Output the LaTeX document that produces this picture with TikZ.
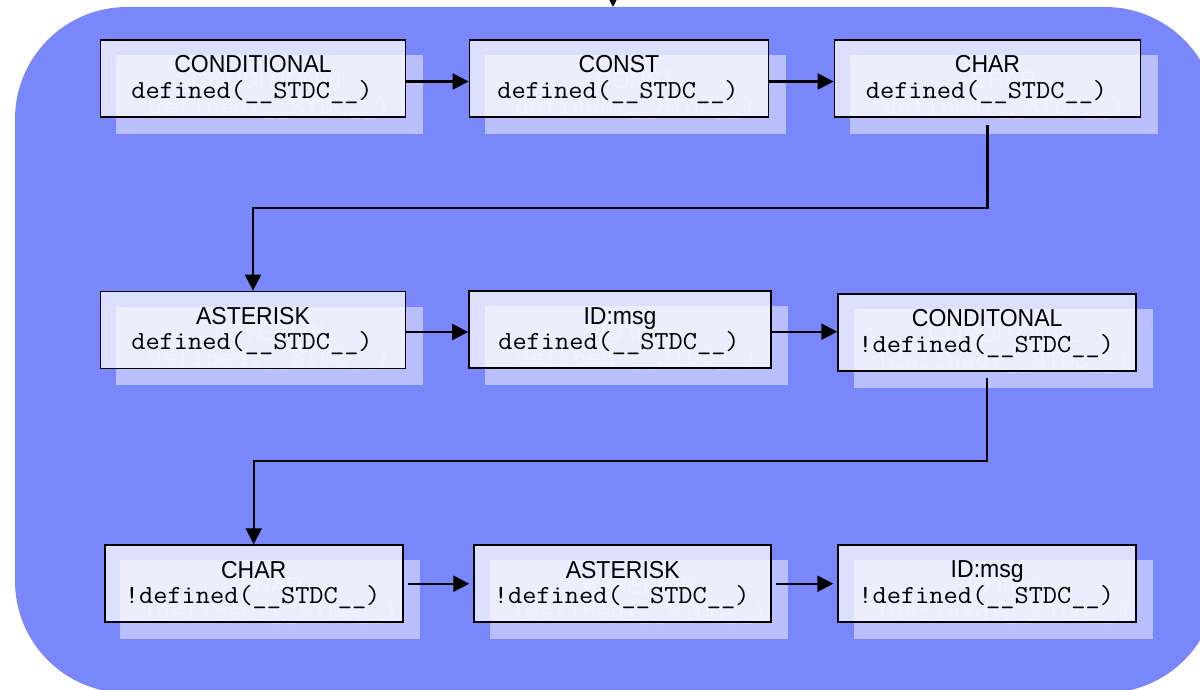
\documentclass[tikz,border=0pt]{standalone}
\usepackage{fontspec}
\newfontfamily\headfont{Liberation Sans}[FakeStretch=0.94]
\newfontfamily\codefont{Latin Modern Mono}[FakeStretch=1.06]
\usetikzlibrary{arrows.meta,calc}
\definecolor{panel}{RGB}{122,135,251}
\tikzset{
  card/.style={draw=black, line width=1.8pt, fill=white, fill opacity=0.74, inner sep=0pt},
  backdrop/.style={fill=white, fill opacity=0.47, inner sep=0pt},
  headline/.style={font=\headfont\fontsize{24.5}{26}\selectfont, inner sep=0pt, text=black},
  codeline/.style={font=\codefont\fontsize{26}{26}\selectfont, inner sep=0pt, text=black},
  ghost/.style={text=white, text opacity=0.28},
  flow/.style={line width=2.2pt, -{Triangle[length=16pt,width=16pt]}},
}
% #1 name, #2 centre, #3 width, #4 height, #5 heading, #6 condition
\newcommand\stagebox[6]{%
  \node[backdrop, minimum width=#3pt+1.5pt, minimum height=#4pt+1.5pt] (#1-s) at ($#2+(16.5,16)$) {};
  \node[headline, ghost, anchor=base] (#1-sa) at ($(#1-s.center)+(0,-5.7)$) {#5};
  \node[codeline, ghost, anchor=base] (#1-sb) at ($(#1-s.center)+(0,19.9)$) {#6};
  \node[card, minimum width=#3pt, minimum height=#4pt] (#1) at #2 {};
  \node[headline, anchor=base] (#1-a) at ($(#1.center)+(0,-5.7)$) {#5};
  \node[codeline, anchor=base] (#1-b) at ($(#1.center)+(-1,19.9)$) {#6};
}
\begin{document}
\begin{tikzpicture}[x=1pt,y=-1pt]
\useasboundingbox (0,0) rectangle (1200,690);
\clip (0,0) rectangle (1200,690);
% rounded panel
\fill[panel, rounded corners=112pt] (15,7) rectangle (1217,693);
% incoming arrow at the top
\coordinate (entry) at (613,-20);
\coordinate (top) at (613,7);
\draw[flow] (entry) -- (top);
% first row
\stagebox{b1}{(253,78.5)}{305}{77}{CONDITIONAL}{defined(\_\_STDC\_\_)}
\stagebox{b2}{(619,78.5)}{299}{77}{CONST}{defined(\_\_STDC\_\_)}
\stagebox{b3}{(987.5,78.5)}{306}{77}{CHAR}{defined(\_\_STDC\_\_)}
% second row
\stagebox{b4}{(253,330)}{305}{77}{ASTERISK}{defined(\_\_STDC\_\_)}
\stagebox{b5}{(620,329.7)}{302}{77}{ID:msg}{defined(\_\_STDC\_\_)}
\stagebox{b6}{(987.2,332.5)}{298}{77}{CONDITONAL}{!defined(\_\_STDC\_\_)}
% third row
\stagebox{b7}{(253.7,583.7)}{298}{77}{CHAR}{!defined(\_\_STDC\_\_)}
\stagebox{b8}{(622.7,583.7)}{297}{77}{ASTERISK}{!defined(\_\_STDC\_\_)}
\stagebox{b9}{(987.2,583.5)}{298}{77}{ID:msg}{!defined(\_\_STDC\_\_)}
% connectors
\draw[flow] ($(b1.east)+(0,3)$) -- ($(b1.east -| b2.west)+(0,3)$);
\draw[flow] ($(b2.east)+(0,3)$) -- ($(b2.east -| b3.west)+(0,3)$);
\draw[flow, shorten <=7pt] (b3.south) -- ++(0,90) -| (b4.north);
\draw[flow] ($(b4.east)+(0,2)$) -- ($(b4.east -| b5.west)+(0,2)$);
\draw[flow] ($(b5.east)+(0,2)$) -- ($(b5.east -| b6.west)+(0,2)$);
\draw[flow, shorten <=6pt] (b6.south) -- ++(0,89) -| (b7.north);
\draw[flow, shorten <=4pt, shorten >=4pt] (b7.east) -- (b7.east -| b8.west);
\draw[flow, shorten <=4pt, shorten >=4pt] (b8.east) -- (b8.east -| b9.west);
\end{tikzpicture}
\end{document}
